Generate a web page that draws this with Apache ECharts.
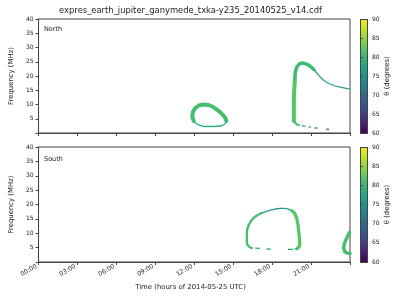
<!DOCTYPE html>
<html><head><meta charset="utf-8">
<script src="https://cdn.jsdelivr.net/npm/echarts@6/dist/echarts.min.js"></script>
<style>html,body{margin:0;padding:0;background:#fff}#c{width:400px;height:300px}</style>
</head><body><div id="c"></div>
<script>
// ---- tick labels / ranges ----
const hourTicks = [0, 3, 6, 9, 12, 15, 18, 21];
const hourTickLabels = ['00:00','03:00','06:00','09:00','12:00','15:00','18:00','21:00'];
const thetaTicks = [60, 65, 70, 75, 80, 85, 90];
const viridis = ['#440154','#482475','#414487','#355f8d','#2a788e','#21918c','#22a884','#44bf70','#7ad151','#bddf26','#fde725'];

// ---- North panel: [hour, frequency MHz] ----
const northLoopUpper = [[11.96,4.21],[11.85,5.61],[11.89,7.37],[12.08,8.77],[12.34,9.65],[12.71,10.0],[13.09,9.82],[13.47,9.12],[13.84,7.89],[14.14,6.67],[14.37,5.44],[14.48,4.21]];
const northLoopLower = [[14.48,4.21],[14.37,3.16],[14.07,2.46],[13.47,2.28],[12.71,2.35],[12.34,2.81],[12.04,3.68],[11.96,4.21]];
const northArcRise = [[19.674,4.21],[19.674,8.07],[19.674,12.28],[19.711,15.79],[19.749,18.6]];
const northArcPeak = [[19.749,18.6],[19.786,21.4],[19.899,23.16],[20.087,24.21],[20.313,24.56],[20.539,24.39],[20.764,23.93],[20.990,23.23],[21.216,22.28]];
const northArcTail = [[21.216,22.28],[21.441,21.05],[21.667,19.82],[21.893,18.77],[22.194,17.82],[22.495,17.09],[22.871,16.49],[23.247,16.07],[23.623,15.75],[24.0,15.44]];
const northFoot = [[19.674,4.21],[19.749,3.51],[19.899,2.98],[20.125,2.70]];
const northDash1 = [[20.275,2.53],[20.576,2.39]];
const northDash2 = [[20.802,2.18],[20.990,2.04]];
const northDash3 = [[21.253,1.82],[21.479,1.68]];
const northDash4 = [[22.156,1.33],[22.382,1.26]];

// ---- South panel: [hour, frequency MHz] ----
const southLoopLeft = [[16.44,4.87],[16.273,5.11],[16.100,5.91],[16.047,7.30],[16.047,9.39],[16.085,11.48],[16.213,13.04],[16.401,14.43],[16.627,15.55],[16.890,16.35],[17.153,16.94]];
const southLoopTop = [[17.153,16.94],[17.492,17.53],[17.868,18.02],[18.244,18.43],[18.620,18.64],[18.996,18.64],[19.260,18.37],[19.523,17.81]];
const southLoopRight = [[19.523,17.81],[19.749,16.87],[19.899,15.13],[19.997,12.87],[20.050,10.61],[20.102,8.35],[20.132,6.43],[20.087,5.39],[19.937,4.70]];
const southCorner = [[19.937,4.70],[19.711,4.45]];
const southDash1 = [[19.598,4.42],[19.222,4.42]];
const southDash2 = [[17.905,4.45],[17.552,4.45]];
const southDash3 = [[17.055,4.77],[16.702,4.83]];
const southEdgeLoop = [[23.962,10.26],[23.812,8.87],[23.661,7.48],[23.548,6.09],[23.511,4.87],[23.586,3.65],[23.774,3.13],[24.0,3.03]];

// segment definitions: panel index, data, theta (degrees)
const segments = [
  {p:0, d:northLoopUpper, theta:81, w:4},
  {p:0, d:northLoopLower, theta:78.5, w:1.3},
  {p:0, d:northArcRise, theta:82, w:4},
  {p:0, d:northArcPeak, theta:80.5, w:3.5},
  {p:0, d:northArcTail, theta:77, w:1.2},
  {p:0, d:northFoot, theta:81, w:2},
  {p:0, d:northDash1, theta:77, w:1.3},
  {p:0, d:northDash2, theta:76, w:1.3},
  {p:0, d:northDash3, theta:72, w:1.3},
  {p:0, d:northDash4, theta:70, w:1.3},
  {p:1, d:southLoopLeft, theta:81, w:2.3},
  {p:1, d:southLoopTop, theta:76.5, w:1.3},
  {p:1, d:southLoopRight, theta:82, w:3.3},
  {p:1, d:southCorner, theta:79, w:1.3},
  {p:1, d:southDash1, theta:77, w:1.3},
  {p:1, d:southDash2, theta:77, w:1.3},
  {p:1, d:southDash3, theta:78, w:1.3},
  {p:1, d:southEdgeLoop, theta:81, w:3.5}
];

const FONT = 'DejaVu Sans';
const TXT = '#222';
const AX = '#444';
const panels = [{top:19, height:114}, {top:147, height:115}];
const L = 31, W = 319, CBX = 360, CBW = 7;

const chart = echarts.init(document.getElementById('c'), null, {renderer:'canvas'});
const colorOf = t => echarts.color.lerp((t - 60) / 30, viridis);

const grids = [], xAxes = [], yAxes = [], graphics = [];
panels.forEach((pn, i) => {
  grids.push({left:L, top:pn.top, width:W, height:pn.height, show:true, borderColor:AX, borderWidth:1, containLabel:false});
  xAxes.push({type:'value', min:0, max:24, interval:3,
    axisLine:{show:true, lineStyle:{color:AX}}, splitLine:{show:false},
    axisTick:{show:true, length:3, lineStyle:{color:AX}},
    axisLabel:{show:false}});
  yAxes.push({type:'value', min:0, max:40, interval:5,
    axisLine:{show:true, lineStyle:{color:AX}}, splitLine:{show:false},
    axisTick:{show:true, length:3, lineStyle:{color:AX}},
    axisLabel:{margin:5, fontSize:6, fontFamily:FONT, color:TXT, formatter: v => v === 0 ? '' : String(v)},
    name:'Frequency (MHz)', nameLocation:'middle', nameGap:16, nameRotate:90,
    nameTextStyle:{fontSize:6.9, fontFamily:FONT, color:TXT}});
  // colorbar grid
  grids.push({left:CBX, top:pn.top, width:CBW, height:pn.height, show:false});
  xAxes.push({show:false, type:'value', min:0, max:1});
  yAxes.push({type:'value', position:'right', min:thetaTicks[0], max:thetaTicks[thetaTicks.length-1], interval:5,
    axisLine:{show:false}, splitLine:{show:false},
    axisTick:{show:true, length:3, lineStyle:{color:AX}},
    axisLabel:{margin:5, fontSize:6, fontFamily:FONT, color:TXT},
    name:'θ (degrees)', nameLocation:'middle', nameGap:17, nameRotate:90,
    nameTextStyle:{fontSize:6.9, fontFamily:FONT, color:TXT}});
  graphics.push({type:'rect', z:-1, shape:{x:CBX+0.5, y:pn.top+0.5, width:CBW, height:pn.height},
    style:{fill:new echarts.graphic.LinearGradient(0,1,0,0, viridis.map((c,j)=>({offset:j/(viridis.length-1), color:c}))), stroke:AX, lineWidth:1}});
});
xAxes.forEach((a, i) => { a.gridIndex = i; });
yAxes.forEach((a, i) => { a.gridIndex = i; });

graphics.push({type:'text', style:{text:'expres_earth_jupiter_ganymede_txka-y235_20140525_v14.cdf', x:190.5, y:10.5, textAlign:'center', textVerticalAlign:'middle', fontSize:8.4, fontFamily:FONT, fill:TXT}});
graphics.push({type:'text', style:{text:'North', x:44, y:29.5, textVerticalAlign:'middle', fontSize:6.5, fontFamily:FONT, fill:TXT}});
graphics.push({type:'text', style:{text:'South', x:44, y:159.5, textVerticalAlign:'middle', fontSize:6.5, fontFamily:FONT, fill:TXT}});
graphics.push({type:'text', style:{text:'Time (hours of 2014-05-25 UTC)', x:190.5, y:287, textAlign:'center', textVerticalAlign:'middle', fontSize:6.9, fontFamily:FONT, fill:TXT}});

const series = segments.map(s => ({
  type:'line', xAxisIndex: s.p * 2, yAxisIndex: s.p * 2, data: s.d,
  symbol:'none', silent:true, animation:false, clip:true,
  lineStyle:{color: colorOf(s.theta), width: s.w, cap: s.w > 2 ? 'round' : 'butt', join:'round'}
}));

chart.setOption({
  animation:false,
  grid: grids, xAxis: xAxes, yAxis: yAxes, series: series, graphic: graphics
});

// rotated hour tick labels (right-aligned to each tick, like matplotlib autofmt_xdate)
hourTicks.forEach((h, k) => {
  const pt = chart.convertToPixel({xAxisIndex:2, yAxisIndex:2}, [h, 0]);
  graphics.push({type:'text', x: pt[0] - 2, y: pt[1] + 4, rotation: Math.PI / 6,
    style:{text: hourTickLabels[k], x:0, y:0, textAlign:'right', textVerticalAlign:'middle', fontSize:6.2, fontFamily:FONT, fill:TXT}});
});
chart.setOption({graphic: graphics});
</script>
</body></html>
